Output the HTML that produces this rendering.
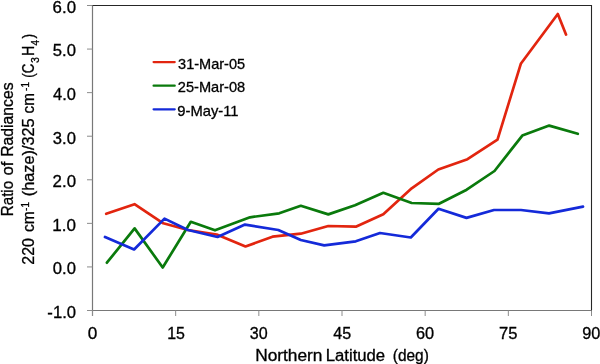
<!DOCTYPE html>
<html><head><meta charset="utf-8"><title>Ratio of Radiances vs Northern Latitude</title>
<style>
html,body{margin:0;padding:0;background:#fff;}
body{width:600px;height:364px;overflow:hidden;}
svg{display:block;}
text{font-family:"Liberation Sans",sans-serif;fill:#000;font-size:15.6px;stroke:#000;stroke-width:.3px;}
</style></head><body>
<svg width="600" height="364" viewBox="0 0 600 364">
<rect width="600" height="364" fill="#fff"/>
<g fill="none" stroke="#8c8c8c" stroke-width="1">
<path d="M92.5 5.5V316M87 310.5H591.5" stroke="#787878" stroke-width="1.2"/>
<path d="M87 310.50H92.5M87 266.93H92.5M87 223.36H92.5M87 179.79H92.5M87 136.21H92.5M87 92.64H92.5M87 49.07H92.5M87 5.50H92.5"/>
<path d="M92.50 310.5V316M175.67 310.5V316M258.83 310.5V316M342.00 310.5V316M425.17 310.5V316M508.33 310.5V316M591.50 310.5V316"/>
</g>
<path d="M92.5 5.5H591.5V310.5" fill="none" stroke="#262626" stroke-width="1.1"/>
<g fill="none" stroke-width="2.7" stroke-linejoin="round" stroke-linecap="round">
<polyline stroke="#e2250f" points="106.2,213.8 134.5,204.2 163.3,223.3 188,230 216.7,234.5 245.5,246.5 272.5,236.7 300.8,233.7 328.3,226 355.8,226.7 383.3,214.2 411.7,188.3 438.3,169.5 467.5,159.2 497.5,139.7 520.8,63.8 557.8,14 566,34.5"/>
<polyline stroke="#0a7a0c" points="106.9,262.7 134.6,228.4 162.7,267.5 190.8,221.8 215,230.3 250,217.3 279.2,213.3 300.8,205.8 328.3,214.4 355,205.3 383.3,192.8 411.7,203 439,203.8 466.7,189.7 494.5,171 522.3,135.6 549.2,125.6 577.8,133.8"/>
<polyline stroke="#142ad9" points="105,237 134.1,249.5 164.5,218.6 188,230 217.5,237 245,224.6 278.3,230 300.8,240 324.2,245.4 355.8,241.3 380,233 410.8,237.5 438.5,208.8 466.5,217.9 494,210 521,210 549,213.4 583,206.6"/>
</g>
<g fill="none" stroke-width="2.3" stroke-linecap="round">
<path stroke="#e2250f" d="M153.6 62.1H174.7"/>
<path stroke="#0a7a0c" d="M153.6 85.7H174.7"/>
<path stroke="#142ad9" d="M153.6 109.3H174.7"/>
</g>
<text x="178.05" y="68.5" style="font-size:14.5px" textLength="67.04" lengthAdjust="spacingAndGlyphs">31-Mar-05</text>
<text x="177.82" y="92.1" style="font-size:14.5px" textLength="67.38" lengthAdjust="spacingAndGlyphs">25-Mar-08</text>
<text x="177.31" y="115.6" style="font-size:14.5px" textLength="61.29" lengthAdjust="spacingAndGlyphs">9-May-11</text>
<text x="255.15" y="360.6" style="font-size:15.6px" textLength="67.32" lengthAdjust="spacingAndGlyphs">Northern</text>
<text x="325.69" y="360.6" style="font-size:15.6px" textLength="59.48" lengthAdjust="spacingAndGlyphs">Latitude</text>
<text x="392.78" y="360.6" style="font-size:15.6px" textLength="36.02" lengthAdjust="spacingAndGlyphs">(deg)</text>
<text x="47.38" y="317.9" style="font-size:15.6px" textLength="28.63" lengthAdjust="spacingAndGlyphs">-1.0</text>
<text x="52.88" y="274.28" style="font-size:15.6px" textLength="23.13" lengthAdjust="spacingAndGlyphs">0.0</text>
<text x="52.33" y="230.71" style="font-size:15.6px" textLength="23.69" lengthAdjust="spacingAndGlyphs">1.0</text>
<text x="52.61" y="187.14" style="font-size:15.6px" textLength="23.41" lengthAdjust="spacingAndGlyphs">2.0</text>
<text x="52.88" y="143.56" style="font-size:15.6px" textLength="23.13" lengthAdjust="spacingAndGlyphs">3.0</text>
<text x="53.14" y="99.99" style="font-size:15.6px" textLength="22.87" lengthAdjust="spacingAndGlyphs">4.0</text>
<text x="52.88" y="56.42" style="font-size:15.6px" textLength="23.13" lengthAdjust="spacingAndGlyphs">5.0</text>
<text x="52.61" y="12.85" style="font-size:15.6px" textLength="23.41" lengthAdjust="spacingAndGlyphs">6.0</text>
<text x="87.76" y="338.6" style="font-size:15.6px" textLength="9.57" lengthAdjust="spacingAndGlyphs">0</text>
<text x="167.20" y="338.6" style="font-size:15.6px" textLength="17.74" lengthAdjust="spacingAndGlyphs">15</text>
<text x="249.83" y="338.6" style="font-size:15.6px" textLength="17.90" lengthAdjust="spacingAndGlyphs">30</text>
<text x="333.25" y="338.6" style="font-size:15.6px" textLength="17.90" lengthAdjust="spacingAndGlyphs">45</text>
<text x="415.90" y="338.6" style="font-size:15.6px" textLength="18.17" lengthAdjust="spacingAndGlyphs">60</text>
<text x="499.06" y="338.6" style="font-size:15.6px" textLength="18.45" lengthAdjust="spacingAndGlyphs">75</text>
<text x="582.23" y="338.6" style="font-size:15.6px" textLength="18.17" lengthAdjust="spacingAndGlyphs">90</text>
<text transform="translate(12.8 216.18) rotate(-90)" style="font-size:15.6px" textLength="35.29" lengthAdjust="spacingAndGlyphs">Ratio</text>
<text transform="translate(12.8 175.52) rotate(-90)" style="font-size:15.6px" textLength="13.97" lengthAdjust="spacingAndGlyphs">of</text>
<text transform="translate(12.8 156.73) rotate(-90)" style="font-size:15.6px" textLength="74.22" lengthAdjust="spacingAndGlyphs">Radiances</text>
<text transform="translate(34 264.75) rotate(-90)" style="font-size:15.6px" textLength="26.65" lengthAdjust="spacingAndGlyphs">220</text>
<text transform="translate(34 231.99) rotate(-90)" style="font-size:15.6px" textLength="20.79" lengthAdjust="spacingAndGlyphs">cm</text>
<text transform="translate(28.5 210.92) rotate(-90)" style="font-size:10.6px" textLength="8.89" lengthAdjust="spacingAndGlyphs">-1</text>
<text transform="translate(34 196.26) rotate(-90)" style="font-size:15.6px" textLength="77.92" lengthAdjust="spacingAndGlyphs">(haze)/325</text>
<text transform="translate(34 113.47) rotate(-90)" style="font-size:15.6px" textLength="20.26" lengthAdjust="spacingAndGlyphs">cm</text>
<text transform="translate(28.5 90.92) rotate(-90)" style="font-size:10.6px" textLength="8.89" lengthAdjust="spacingAndGlyphs">-1</text>
<text transform="translate(34 77.63) rotate(-90)" style="font-size:15.6px" textLength="14.09" lengthAdjust="spacingAndGlyphs">(C</text>
<text transform="translate(38.5 62.90) rotate(-90)" style="font-size:10.6px" textLength="5.84" lengthAdjust="spacingAndGlyphs">3</text>
<text transform="translate(34 56.11) rotate(-90)" style="font-size:15.6px" textLength="10.27" lengthAdjust="spacingAndGlyphs">H</text>
<text transform="translate(38.5 45.49) rotate(-90)" style="font-size:10.6px" textLength="5.46" lengthAdjust="spacingAndGlyphs">4</text>
<text transform="translate(34 38.50) rotate(-90)" style="font-size:15.6px" textLength="4.74" lengthAdjust="spacingAndGlyphs">)</text>
</svg>
</body></html>
